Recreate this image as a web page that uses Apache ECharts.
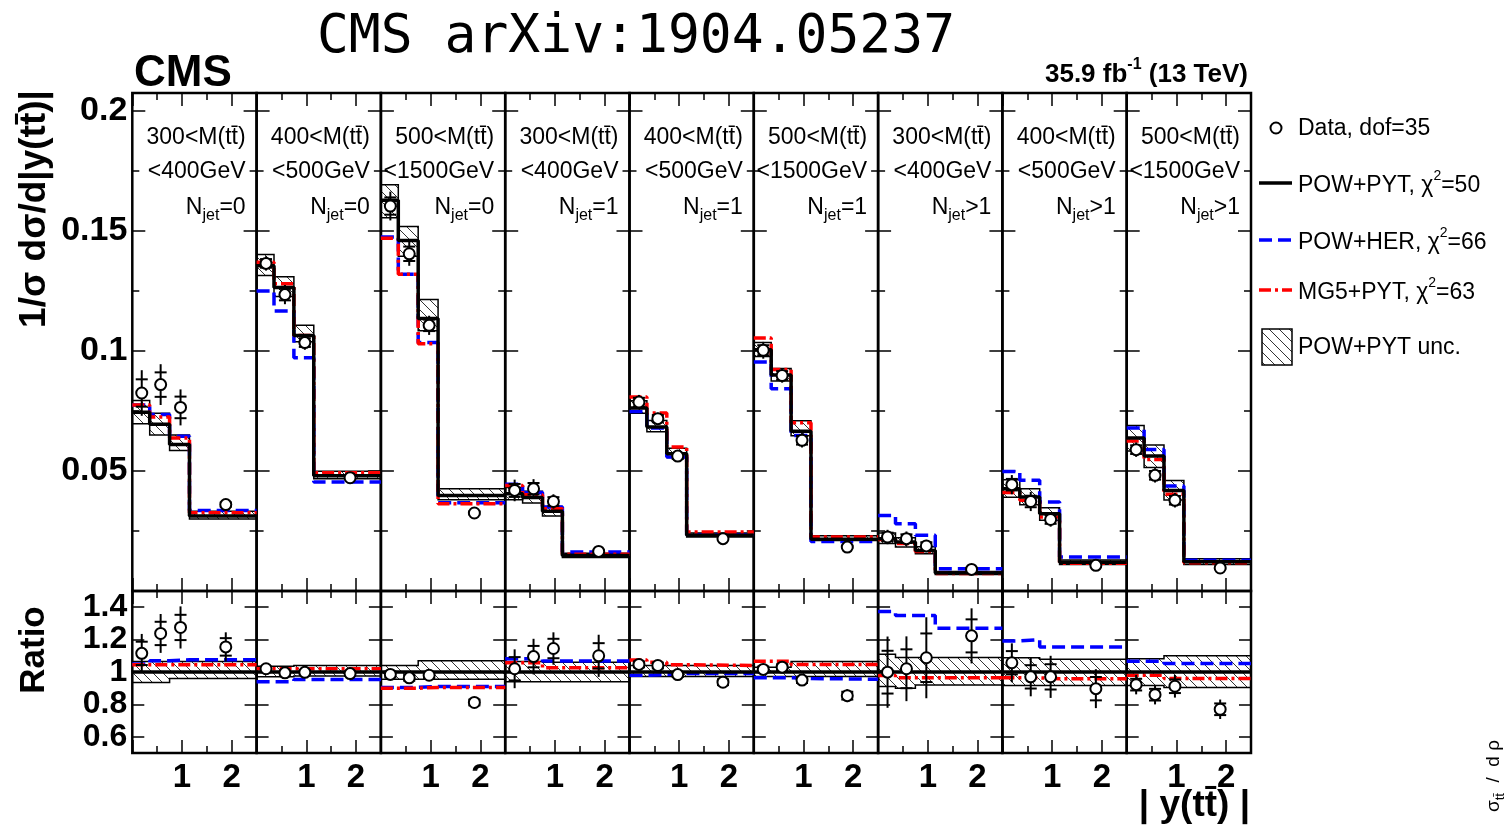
<!DOCTYPE html>
<html><head><meta charset="utf-8">
<script src="https://cdn.jsdelivr.net/npm/echarts@6/dist/echarts.min.js"></script>
<style>html,body{margin:0;padding:0;background:#fff}#c{width:1504px;height:830px}</style>
</head><body><div id="c"></div>
<script>
// ---------------- data ----------------
const binEdges = [0, 0.35, 0.75, 1.15, 2.5];
const pointX = [0.19, 0.57, 0.97, 1.88];
const xTickLabels = [1, 2];
const yTickLabels = [0.05, 0.1, 0.15, 0.2];
const ratioTickLabels = [0.6, 0.8, 1, 1.2, 1.4];

const massLow = ['300<M(tt\u0304)', '400<M(tt\u0304)', '500<M(tt\u0304)', '300<M(tt\u0304)', '400<M(tt\u0304)', '500<M(tt\u0304)', '300<M(tt\u0304)', '400<M(tt\u0304)', '500<M(tt\u0304)'];
const massHigh = ['<400GeV', '<500GeV', '<1500GeV', '<400GeV', '<500GeV', '<1500GeV', '<400GeV', '<500GeV', '<1500GeV'];
const jetSel = ['=0', '=0', '=0', '=1', '=1', '=1', '>1', '>1', '>1'];

const dataVal = [
  [0.0825, 0.0860, 0.0765, 0.0360],
  [0.1365, 0.1235, 0.1035, 0.0472],
  [0.1604, 0.1405, 0.1107, 0.0325],
  [0.0419, 0.0426, 0.0373, 0.0165],
  [0.0787, 0.0718, 0.0562, 0.0218],
  [0.1003, 0.0898, 0.0628, 0.0183],
  [0.0225, 0.0218, 0.0188, 0.0090],
  [0.0443, 0.0373, 0.0298, 0.0107],
  [0.0589, 0.0482, 0.0378, 0.0096]
];
const dataErr = [
  [0.0095, 0.0085, 0.0075, 0.0015],
  [0.0030, 0.0040, 0.0030, 0.0010],
  [0.0060, 0.0050, 0.0040, 0.0010],
  [0.0045, 0.0040, 0.0030, 0.0008],
  [0.0030, 0.0025, 0.0020, 0.0006],
  [0.0035, 0.0030, 0.0030, 0.0006],
  [0.0030, 0.0030, 0.0025, 0.0010],
  [0.0040, 0.0040, 0.0030, 0.0010],
  [0.0030, 0.0030, 0.0030, 0.0007]
];
const powPyt = [
  [0.0745, 0.0695, 0.0610, 0.0312],
  [0.1355, 0.1265, 0.1065, 0.0480],
  [0.1628, 0.1460, 0.1135, 0.0398],
  [0.0405, 0.0390, 0.0332, 0.0148],
  [0.0762, 0.0683, 0.0572, 0.0232],
  [0.1005, 0.0900, 0.0666, 0.0216],
  [0.0218, 0.0204, 0.0169, 0.0075],
  [0.0426, 0.0392, 0.0322, 0.0120],
  [0.0637, 0.0562, 0.0419, 0.0122]
];
const powHer = [
  [0.0775, 0.0735, 0.0645, 0.0335],
  [0.1250, 0.1167, 0.0972, 0.0454],
  [0.1475, 0.1320, 0.1035, 0.0368],
  [0.0445, 0.0410, 0.0350, 0.0162],
  [0.0748, 0.0679, 0.0558, 0.0234],
  [0.0954, 0.0843, 0.0648, 0.0206],
  [0.0315, 0.0280, 0.0232, 0.0093],
  [0.0498, 0.0461, 0.0371, 0.0142],
  [0.0679, 0.0590, 0.0437, 0.0128]
];
const mg5Pyt = [
  [0.0775, 0.0725, 0.0638, 0.0326],
  [0.1370, 0.1280, 0.1065, 0.0493],
  [0.1470, 0.1320, 0.1030, 0.0364],
  [0.0440, 0.0401, 0.0343, 0.0153],
  [0.0808, 0.0742, 0.0600, 0.0246],
  [0.1054, 0.0923, 0.0701, 0.0225],
  [0.0215, 0.0198, 0.0165, 0.0073],
  [0.0410, 0.0378, 0.0308, 0.0116],
  [0.0625, 0.0548, 0.0403, 0.0118]
];
// relative POW+PYT uncertainty (lower / upper edge of band, as ratio)
const uncLo = [
  [0.935, 0.935, 0.960, 0.960],
  [0.970, 0.970, 0.975, 0.975],
  [0.955, 0.955, 0.955, 0.955],
  [0.940, 0.940, 0.940, 0.940],
  [0.972, 0.972, 0.972, 0.972],
  [0.972, 0.972, 0.972, 0.972],
  [0.910, 0.900, 0.920, 0.920],
  [0.916, 0.916, 0.916, 0.916],
  [0.916, 0.916, 0.905, 0.905]
];
const uncHi = [
  [1.065, 1.065, 1.065, 1.065],
  [1.035, 1.035, 1.040, 1.040],
  [1.040, 1.040, 1.070, 1.070],
  [1.065, 1.065, 1.060, 1.060],
  [1.040, 1.040, 1.040, 1.040],
  [1.030, 1.030, 1.065, 1.065],
  [1.110, 1.090, 1.090, 1.090],
  [1.088, 1.088, 1.078, 1.078],
  [1.082, 1.082, 1.100, 1.100]
];
const ratioData = [
  [1.115, 1.238, 1.275, 1.155],
  [1.020, 0.995, 0.998, 0.990],
  [0.985, 0.964, 0.980, 0.812],
  [1.020, 1.095, 1.145, 1.100],
  [1.047, 1.040, 0.984, 0.937],
  [1.016, 1.030, 0.950, 0.854],
  [0.999, 1.020, 1.088, 1.223],
  [1.057, 0.970, 0.970, 0.897],
  [0.922, 0.860, 0.912, 0.770]
];
const ratioErr = [
  [0.12, 0.12, 0.13, 0.09],
  [0.02, 0.02, 0.02, 0.02],
  [0.03, 0.03, 0.03, 0.03],
  [0.12, 0.11, 0.10, 0.13],
  [0.03, 0.03, 0.025, 0.03],
  [0.03, 0.03, 0.03, 0.04],
  [0.22, 0.20, 0.25, 0.17],
  [0.12, 0.12, 0.13, 0.12],
  [0.06, 0.06, 0.07, 0.06]
];
const ratioPyt = [1, 1, 1, 1];
const ratioHer = [
  [1.050, 1.070, 1.075, 1.075],
  [0.940, 0.940, 0.953, 0.953],
  [0.905, 0.905, 0.910, 0.910],
  [1.082, 1.082, 1.068, 1.068],
  [0.980, 0.985, 0.990, 0.990],
  [0.964, 0.964, 0.960, 0.955],
  [1.373, 1.348, 1.348, 1.270],
  [1.192, 1.200, 1.155, 1.155],
  [1.067, 1.067, 1.053, 1.053]
];
const ratioMg5 = [
  [1.045, 1.045, 1.045, 1.045],
  [1.020, 1.020, 1.020, 1.020],
  [0.900, 0.900, 0.905, 0.905],
  [1.057, 1.057, 1.026, 1.026],
  [1.074, 1.060, 1.045, 1.040],
  [1.067, 1.067, 1.047, 1.047],
  [0.978, 0.964, 0.964, 0.964],
  [0.964, 0.964, 0.958, 0.958],
  [0.980, 0.980, 0.960, 0.960]
];
const legendLabels = ['Data, dof=35', 'POW+PYT, \u03c7', 'POW+HER, \u03c7', 'MG5+PYT, \u03c7', 'POW+PYT unc.'];
const chi2 = ['50', '66', '63'];

// ---------------- layout / style ----------------
const X0 = 132.3, PW = 124.3;
const TOP_TOP = 93, TOP_H = 498, RAT_TOP = 591, RAT_H = 162;
const FONT = '"Liberation Sans", Arial, sans-serif';
const STAT_FRAC = 0.6;
const BLUE = '#0000ff', RED = '#ff0000';
const DASH_BLUE = [13, 6], DASH_RED = [12, 4, 3, 4];

function makeHatch() {
  const s = 10, c = document.createElement('canvas');
  c.width = s; c.height = s;
  const ctx = c.getContext('2d');
  ctx.strokeStyle = '#000'; ctx.lineWidth = 0.8;
  ctx.beginPath();
  ctx.moveTo(0, 0); ctx.lineTo(s, s);
  ctx.moveTo(-1, s - 1); ctx.lineTo(1, s + 1);
  ctx.moveTo(s - 1, -1); ctx.lineTo(s + 1, 1);
  ctx.stroke();
  return c;
}
const hatch = { image: makeHatch(), repeat: 'repeat' };

function stepPts(vals) {
  const pts = [];
  for (let b = 0; b < vals.length; b++) {
    pts.push([binEdges[b], vals[b]], [binEdges[b + 1], vals[b]]);
  }
  return pts;
}

function xAxis(g, pos, labels) {
  return {
    type: 'value', gridIndex: g, position: pos, min: 0, max: 2.5, interval: 1,
    axisLine: { show: false, onZero: false }, splitLine: { show: false },
    axisTick: { show: true, inside: true, length: 13, lineStyle: { color: '#000', width: 1.5 } },
    minorTick: { show: true, splitNumber: 2, length: 7, lineStyle: { color: '#000', width: 1.5 } },
    minorSplitLine: { show: false },
    axisLabel: {
      show: labels, margin: 8, color: '#000', fontFamily: FONT, fontWeight: 'bold', fontSize: 33,
      formatter: v => (xTickLabels.indexOf(Math.round(v * 100) / 100) >= 0 ? String(Math.round(v)) : '')
    }
  };
}
function yTop(g, pos, labels) {
  return {
    type: 'value', gridIndex: g, position: pos, min: 0, max: 0.2075, interval: 0.05,
    axisLine: { show: false, onZero: false }, splitLine: { show: false },
    axisTick: { show: true, inside: true, length: 13, lineStyle: { color: '#000', width: 1.5 } },
    minorTick: { show: true, splitNumber: 2, length: 7, lineStyle: { color: '#000', width: 1.5 } },
    minorSplitLine: { show: false },
    axisLabel: {
      show: labels, margin: 5, color: '#000', fontFamily: FONT, fontWeight: 'bold', fontSize: 34,
      formatter: v => {
        const r = Math.round(v * 1000) / 1000;
        return yTickLabels.indexOf(r) >= 0 ? String(r) : '';
      }
    }
  };
}
function yRatio(g, pos, labels) {
  return {
    type: 'value', gridIndex: g, position: pos, min: 0.5, max: 1.5, interval: 0.1,
    axisLine: { show: false, onZero: false }, splitLine: { show: false },
    axisTick: { show: true, inside: true, length: 12, customValues: ratioTickLabels, lineStyle: { color: '#000', width: 1.5 } },
    axisLabel: {
      show: labels, margin: 5, color: '#000', fontFamily: FONT, fontWeight: 'bold', fontSize: 32,
      customValues: ratioTickLabels,
      formatter: v => {
        const r = Math.round(v * 10) / 10;
        return ratioTickLabels.indexOf(r) >= 0 ? String(r) : '';
      }
    }
  };
}

const grids = [], xAxes = [], yAxes = [], series = [];
for (let g = 0; g < 18; g++) {
  const p = g % 9, isRatio = g >= 9;
  grids.push({
    left: X0 + p * PW, top: isRatio ? RAT_TOP : TOP_TOP, width: PW, height: isRatio ? RAT_H : TOP_H,
    show: true, borderColor: '#000', borderWidth: 2.5, backgroundColor: 'rgba(0,0,0,0)',
    containLabel: false, outerBoundsMode: 'none'
  });
  xAxes.push(xAxis(g, 'bottom', isRatio), xAxis(g, 'top', false));
  if (isRatio) yAxes.push(yRatio(g, 'left', p === 0), yRatio(g, 'right', false));
  else yAxes.push(yTop(g, 'left', p === 0), yTop(g, 'right', false));
}

function errRender(params, api) {
  const x = api.value(0), v = api.value(1), e = api.value(2);
  const pT = api.coord([x, v + e]), pB = api.coord([x, v - e]);
  const sT = api.coord([x, v + e * STAT_FRAC]), sB = api.coord([x, v - e * STAT_FRAC]);
  const st = { stroke: '#000', lineWidth: 2 };
  return {
    type: 'group', children: [
      { type: 'line', shape: { x1: pT[0], y1: pT[1], x2: pB[0], y2: pB[1] }, style: st },
      { type: 'line', shape: { x1: sT[0] - 6, y1: sT[1], x2: sT[0] + 6, y2: sT[1] }, style: st },
      { type: 'line', shape: { x1: sB[0] - 6, y1: sB[1], x2: sB[0] + 6, y2: sB[1] }, style: st }
    ]
  };
}
function boxRender(params, api) {
  const a = api.coord([api.value(0), api.value(3)]);
  const c = api.coord([api.value(1), api.value(2)]);
  return {
    type: 'rect', shape: { x: a[0], y: a[1], width: c[0] - a[0], height: c[1] - a[1] },
    style: { fill: hatch, stroke: '#000', lineWidth: 1.5 }
  };
}
function bandRender(lo, hi) {
  return function (params, api) {
    const pts = [];
    for (let b = 0; b < 4; b++) pts.push(api.coord([binEdges[b], hi[b]]), api.coord([binEdges[b + 1], hi[b]]));
    for (let b = 3; b >= 0; b--) pts.push(api.coord([binEdges[b + 1], lo[b]]), api.coord([binEdges[b], lo[b]]));
    return { type: 'polygon', shape: { points: pts }, style: { fill: hatch, stroke: '#000', lineWidth: 1.5 } };
  };
}
function lineSeries(g, pts, color, type, z) {
  return {
    type: 'line', xAxisIndex: 2 * g, yAxisIndex: 2 * g, data: pts, symbol: 'none', silent: true, z: z,
    lineStyle: { color: color, width: 3.5, type: type }, clip: true, animation: false
  };
}

for (let p = 0; p < 9; p++) {
  const gt = p, gr = 9 + p;
  // ---- top panel ----
  series.push({
    type: 'custom', xAxisIndex: 2 * gt, yAxisIndex: 2 * gt, clip: true, z: 1, silent: true,
    data: [0, 1, 2, 3].map(b => [binEdges[b], binEdges[b + 1], powPyt[p][b] * uncLo[p][b], powPyt[p][b] * uncHi[p][b]]),
    renderItem: boxRender
  });
  series.push(lineSeries(gt, stepPts(powHer[p]), BLUE, DASH_BLUE, 3));
  series.push(lineSeries(gt, stepPts(mg5Pyt[p]), RED, DASH_RED, 4));
  series.push(lineSeries(gt, stepPts(powPyt[p]), '#000', 'solid', 5));
  series.push({
    type: 'custom', xAxisIndex: 2 * gt, yAxisIndex: 2 * gt, clip: true, z: 8, silent: true,
    data: pointX.map((x, b) => [x, dataVal[p][b], dataErr[p][b]]), renderItem: errRender
  });
  series.push({
    type: 'scatter', xAxisIndex: 2 * gt, yAxisIndex: 2 * gt, z: 10, silent: true, symbol: 'circle', symbolSize: 11,
    itemStyle: { color: '#fff', borderColor: '#000', borderWidth: 2, opacity: 1 },
    data: pointX.map((x, b) => [x, dataVal[p][b]])
  });
  // ---- ratio panel ----
  series.push({
    type: 'custom', xAxisIndex: 2 * gr, yAxisIndex: 2 * gr, clip: true, z: 1, silent: true,
    data: [[0, 1]], renderItem: bandRender(uncLo[p], uncHi[p])
  });
  series.push(lineSeries(gr, stepPts(ratioHer[p]), BLUE, DASH_BLUE, 3));
  series.push(lineSeries(gr, stepPts(ratioMg5[p]), RED, DASH_RED, 4));
  series.push(lineSeries(gr, stepPts(ratioPyt), '#000', 'solid', 5));
  series.push({
    type: 'custom', xAxisIndex: 2 * gr, yAxisIndex: 2 * gr, clip: true, z: 8, silent: true,
    data: pointX.map((x, b) => [x, ratioData[p][b], ratioErr[p][b]]), renderItem: errRender
  });
  series.push({
    type: 'scatter', xAxisIndex: 2 * gr, yAxisIndex: 2 * gr, z: 10, silent: true, symbol: 'circle', symbolSize: 11,
    itemStyle: { color: '#fff', borderColor: '#000', borderWidth: 2, opacity: 1 },
    data: pointX.map((x, b) => [x, ratioData[p][b]])
  });
}

// ---------------- texts ----------------
const graphics = [];
function txt(x, y, text, font, align, vAlign, extra) {
  return { type: 'text', x: x, y: y, z: 100, silent: true,
    style: Object.assign({ text: text, font: font, fill: '#000', textAlign: align, textVerticalAlign: vAlign }, extra || {}) };
}
graphics.push(txt(636, 38, 'CMS arXiv:1904.05237', '53px "DejaVu Sans Mono", monospace', 'center', 'middle'));
graphics.push(txt(134, 74, 'CMS', 'bold 44px ' + FONT, 'left', 'middle'));
graphics.push(txt(1248, 72, '{a|35.9 fb}{s|-1}{a| (13 TeV)}', 'bold 26px ' + FONT, 'right', 'middle', {
  rich: {
    a: { font: 'bold 26px ' + FONT, fill: '#000', lineHeight: 31, verticalAlign: 'bottom' },
    s: { font: 'bold 16px ' + FONT, fill: '#000', lineHeight: 20, verticalAlign: 'top' }
  }
}));
// axis titles
const ytitle = txt(35, 209, '1/\u03c3 d\u03c3/d|y(tt\u0304)|', 'bold 37px ' + FONT, 'center', 'middle');
ytitle.rotation = Math.PI / 2;
graphics.push(ytitle);
const rtitle = txt(34, 650, 'Ratio', 'bold 35px ' + FONT, 'center', 'middle');
rtitle.rotation = Math.PI / 2;
graphics.push(rtitle);
graphics.push(txt(1250, 806, '| y(tt\u0304) |', 'bold 37px ' + FONT, 'right', 'middle'));
// cut-off label of the neighbouring figure at the right border
const edgeTxt = txt(1494, 740, '\u03c3{s|tt\u0304}  /  d \u03c1', '19px ' + FONT, 'right', 'middle', {
  rich: { s: { font: '13px ' + FONT, fill: '#000', verticalAlign: 'bottom', lineHeight: 26 } }
});
edgeTxt.rotation = Math.PI / 2;
graphics.push(edgeTxt);

// panel labels
for (let p = 0; p < 9; p++) {
  const R = X0 + (p + 1) * PW - 11;
  graphics.push(txt(R, 138, massLow[p], '23px ' + FONT, 'right', 'middle'));
  graphics.push(txt(R, 172, massHigh[p], '23px ' + FONT, 'right', 'middle'));
  graphics.push(txt(R, 210, '{n|N}{s|jet}{n|' + jetSel[p] + '}', '23px ' + FONT, 'right', 'middle', {
    rich: {
      n: { font: '23px ' + FONT, fill: '#000', lineHeight: 26, verticalAlign: 'top' },
      s: { font: '16px ' + FONT, fill: '#000', lineHeight: 28, verticalAlign: 'bottom' }
    }
  }));
}

// legend
const LX = 1298;
graphics.push({ type: 'circle', z: 100, silent: true, shape: { cx: 1276, cy: 128, r: 5.5 }, style: { fill: '#fff', stroke: '#000', lineWidth: 2 } });
graphics.push(txt(LX, 129, legendLabels[0], '23px ' + FONT, 'left', 'middle'));
const legY = [183, 240, 290];
const legCol = ['#000', BLUE, RED];
const legDash = [null, DASH_BLUE, DASH_RED];
for (let i = 0; i < 3; i++) {
  graphics.push({ type: 'line', z: 100, silent: true, shape: { x1: 1259, y1: legY[i], x2: 1292, y2: legY[i] },
    style: { stroke: legCol[i], lineWidth: 3.5, lineDash: legDash[i] } });
  graphics.push(txt(LX, legY[i], '{a|' + legendLabels[i + 1] + '}{s|2}{a|=' + chi2[i] + '}', '23px ' + FONT, 'left', 'middle', {
    rich: {
      a: { font: '23px ' + FONT, fill: '#000', lineHeight: 28, verticalAlign: 'bottom' },
      s: { font: '14px ' + FONT, fill: '#000', lineHeight: 18, verticalAlign: 'top' }
    }
  }));
}
graphics.push({ type: 'rect', z: 100, silent: true, shape: { x: 1262, y: 329, width: 30, height: 36 }, style: { fill: hatch, stroke: '#000', lineWidth: 1.5 } });
graphics.push(txt(LX, 348, legendLabels[4], '23px ' + FONT, 'left', 'middle'));

const chart = echarts.init(document.getElementById('c'), null, { renderer: 'canvas' });
chart.setOption({
  animation: false,
  backgroundColor: '#fff',
  grid: grids, xAxis: xAxes, yAxis: yAxes, series: series,
  graphic: { elements: graphics }
});
</script>
</body></html>
